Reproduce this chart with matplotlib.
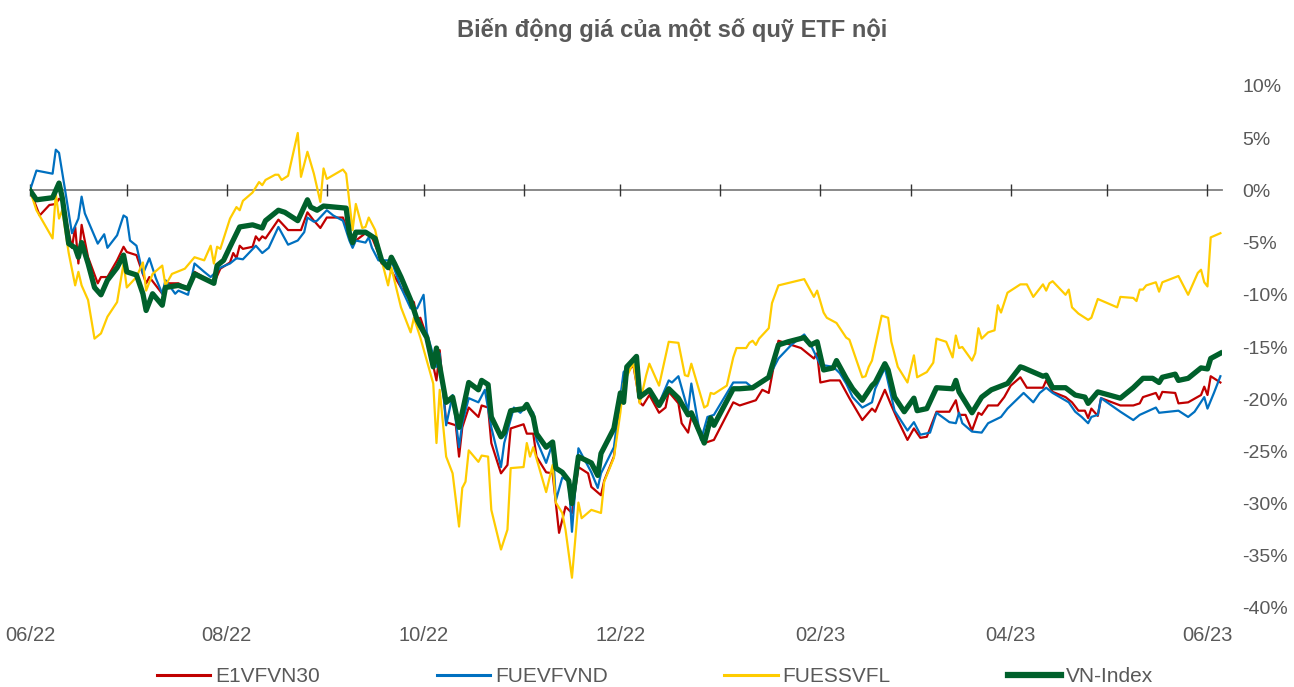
import numpy as np
import pandas as pd
import matplotlib
matplotlib.use("Agg")
import matplotlib.pyplot as plt

plt.rcParams['font.family'] = ['Liberation Sans', 'DejaVu Sans']

# % change vs 01/06/2022, as (days since 2022-06-01, value)
e1vfvn30 = [(0, 0.0), (3, -2.4), (6, -1.4), (8, -1.3), (9, -0.8), (10, -1.0), (13, -5.5), (14, -3.5),
            (15, -7.0), (16, -3.3), (18, -6.4), (21, -8.9), (22, -8.3), (24, -8.3), (27, -6.7), (29, -5.4),
            (30, -5.9), (33, -6.2), (36, -8.9), (37, -8.3), (41, -9.9), (42, -8.9), (46, -8.9), (49, -9.4),
            (51, -7.8), (57, -8.9), (59, -7.5), (62, -6.9), (63, -6.0), (64, -6.5), (65, -5.3), (66, -5.6),
            (69, -5.4), (70, -4.4), (71, -4.8), (72, -4.4), (73, -4.6), (77, -2.8), (80, -3.8), (84, -3.8),
            (86, -2.1), (88, -2.9), (90, -3.6), (92, -2.6), (97, -2.6), (99, -4.3), (100, -5.0), (101, -4.8),
            (104, -4.1), (106, -4.5), (108, -6.0), (109, -7.0), (111, -7.4), (112, -7.7), (115, -9.3),
            (118, -10.5), (119, -10.7), (120, -12.4), (121, -12.2), (123, -14.0), (126, -18.2), (127, -15.3),
            (129, -22.2), (132, -22.5), (133, -25.5), (134, -22.7), (136, -20.8), (139, -21.7), (140, -20.6),
            (142, -20.8), (143, -24.2), (146, -27.1), (148, -26.3), (149, -22.8), (153, -22.4), (154, -23.3),
            (156, -23.3), (157, -25.5), (160, -27.0), (162, -27.1), (164, -32.8), (166, -30.3), (168, -30.9),
            (170, -26.5), (173, -27.1), (174, -28.4), (177, -29.2), (178, -27.8), (181, -25.5), (183, -20.1),
            (184, -17.9), (187, -16.7), (189, -20.3), (190, -20.6), (192, -19.6), (195, -21.3), (197, -20.8),
            (198, -19.3), (201, -20.4), (202, -22.3), (204, -23.2), (205, -21.7), (209, -24.2), (212, -23.9),
            (218, -20.3), (220, -20.6), (225, -20.1), (227, -19.1), (229, -19.4), (232, -14.4), (236, -14.8),
            (239, -15.1), (243, -16.1), (244, -15.6), (245, -18.4), (248, -18.2), (251, -18.2), (254, -19.9),
            (258, -22.0), (261, -20.9), (262, -21.2), (265, -19.1), (267, -20.6), (269, -22.0), (272, -23.9),
            (274, -22.8), (276, -23.7), (278, -23.6), (281, -21.2), (285, -21.2), (287, -20.1), (288, -21.5),
            (290, -21.5), (292, -23.0), (294, -21.3), (295, -21.5), (297, -20.6), (300, -20.6), (302, -19.8),
            (304, -18.7), (307, -17.9), (309, -18.9), (311, -18.9), (314, -18.9), (315, -18.2), (317, -19.3),
            (321, -19.8), (323, -20.3), (325, -21.1), (327, -21.1), (328, -21.8), (329, -20.9), (331, -21.6),
            (332, -19.9), (338, -20.6), (342, -20.6), (344, -20.4), (345, -19.8), (349, -19.4), (350, -20.0),
            (351, -19.3), (355, -19.4), (356, -20.4), (359, -20.3), (363, -19.6), (364, -18.8), (365, -19.6),
            (366, -17.8), (369, -18.4)]

fuevfvnd = [(0, 0.0), (2, 1.9), (7, 1.6), (8, 3.9), (9, 3.6), (11, -0.2), (13, -4.1), (15, -2.7),
            (16, -0.6), (17, -2.2), (21, -5.1), (23, -4.2), (24, -5.5), (27, -4.3), (29, -2.4), (30, -2.6),
            (31, -4.8), (33, -5.3), (35, -8.0), (37, -6.5), (39, -8.4), (41, -9.9), (42, -8.6), (45, -9.9),
            (46, -9.6), (49, -10.0), (51, -7.0), (54, -7.8), (56, -8.3), (59, -7.4), (62, -7.0), (64, -6.5),
            (66, -6.6), (70, -5.3), (72, -6.0), (74, -5.5), (77, -3.5), (80, -5.2), (83, -4.8), (85, -4.0),
            (86, -2.6), (88, -3.0), (89, -2.9), (92, -1.9), (94, -2.4), (97, -2.9), (99, -4.8), (100, -5.5),
            (101, -4.8), (104, -5.0), (105, -4.5), (106, -5.5), (108, -6.7), (112, -6.7), (115, -9.3),
            (118, -11.3), (120, -11.3), (122, -10.0), (123, -13.6), (126, -16.9), (127, -15.6), (129, -22.5),
            (131, -19.6), (133, -24.6), (134, -22.3), (136, -19.9), (139, -20.3), (141, -19.1), (143, -22.7),
            (146, -26.5), (147, -24.2), (150, -20.8), (152, -21.3), (154, -20.6), (156, -21.3), (157, -23.9),
            (160, -26.1), (162, -24.2), (163, -29.7), (165, -27.5), (167, -27.8), (168, -32.7), (170, -24.7),
            (174, -27.0), (176, -28.5), (177, -27.1), (181, -24.6), (183, -19.8), (184, -17.4), (187, -16.5),
            (189, -19.8), (192, -19.1), (195, -20.4), (198, -18.2), (199, -18.4), (201, -17.8), (204, -21.1),
            (205, -18.5), (208, -23.9), (210, -21.7), (212, -21.5), (218, -18.4), (222, -18.4), (224, -18.9),
            (226, -18.4), (229, -17.9), (232, -16.1), (236, -14.8), (240, -13.8), (242, -14.8), (245, -16.7),
            (249, -16.9), (251, -17.5), (253, -18.5), (255, -19.8), (258, -20.8), (261, -20.3), (262, -19.0),
            (265, -17.0), (268, -21.1), (272, -23.0), (274, -22.2), (276, -23.4), (279, -23.2), (281, -21.3),
            (285, -22.2), (287, -22.3), (288, -21.3), (289, -22.3), (292, -23.1), (295, -23.2), (297, -22.3),
            (301, -21.7), (303, -20.9), (308, -19.4), (311, -20.3), (313, -19.4), (315, -18.9), (317, -19.4),
            (322, -20.3), (324, -21.2), (326, -21.7), (328, -22.3), (329, -21.7), (331, -21.5), (332, -19.9),
            (338, -21.2), (342, -22.0), (344, -21.5), (349, -20.8), (350, -21.3), (356, -21.1), (359, -21.7),
            (361, -21.2), (364, -19.8), (365, -20.9), (367, -19.4), (369, -17.8)]

fuessvfl = [(0, 0.0), (2, -1.9), (7, -4.6), (8, -0.3), (9, -2.7), (10, -1.9), (12, -6.0), (14, -9.1),
            (15, -7.8), (16, -9.1), (18, -10.5), (20, -14.2), (22, -13.7), (24, -12.1), (27, -10.7),
            (29, -7.0), (30, -9.3), (33, -8.3), (35, -6.9), (36, -9.6), (38, -8.0), (41, -7.2), (42, -9.1),
            (44, -8.0), (48, -7.5), (51, -6.4), (54, -6.7), (56, -5.3), (57, -7.0), (58, -5.4), (59, -5.6),
            (62, -2.7), (64, -1.6), (65, -1.9), (66, -1.0), (69, -0.2), (71, 0.8), (72, 0.5), (73, 1.0),
            (76, 1.5), (77, 1.5), (78, 1.0), (80, 1.4), (83, 5.5), (84, 1.3), (86, 3.7), (88, 1.6), (90, -1.1),
            (91, 2.1), (92, 1.1), (97, 2.0), (98, 1.6), (100, -3.8), (101, -1.3), (103, -3.6), (104, -3.5),
            (105, -2.6), (107, -3.8), (109, -6.7), (111, -9.1), (112, -7.4), (115, -11.2), (118, -13.6),
            (119, -12.2), (121, -14.1), (125, -18.5), (126, -24.2), (127, -19.1), (129, -25.5), (131, -27.1),
            (133, -32.2), (134, -28.5), (135, -27.9), (136, -24.9), (139, -26.0), (140, -25.4), (142, -25.5),
            (143, -30.6), (146, -34.4), (148, -32.5), (149, -26.6), (153, -26.5), (154, -24.2), (155, -25.5),
            (156, -24.6), (160, -28.9), (162, -26.3), (163, -29.9), (165, -30.9), (166, -32.5), (168, -37.1),
            (170, -29.9), (171, -31.4), (174, -30.6), (177, -30.9), (178, -27.9), (181, -25.6), (183, -21.3),
            (184, -18.5), (187, -16.5), (189, -20.4), (191, -17.7), (192, -16.6), (195, -18.7), (198, -14.5),
            (201, -14.6), (203, -17.7), (204, -17.8), (205, -16.6), (209, -20.8), (210, -20.6), (211, -19.4),
            (212, -19.5), (216, -18.7), (218, -16.0), (219, -15.1), (222, -15.1), (223, -14.6), (224, -14.4),
            (225, -14.8), (226, -14.2), (229, -13.2), (230, -10.8), (232, -9.1), (240, -8.5), (243, -10.2),
            (244, -9.6), (246, -11.7), (247, -12.2), (250, -12.7), (253, -14.1), (254, -14.3), (258, -17.9),
            (259, -17.8), (260, -16.9), (261, -16.3), (264, -12.0), (266, -12.2), (267, -14.5), (269, -16.9),
            (272, -18.4), (274, -15.8), (275, -17.9), (278, -17.4), (280, -16.5), (281, -14.2), (284, -14.5),
            (286, -16.0), (287, -13.9), (288, -15.1), (289, -15.0), (292, -16.3), (293, -15.6), (294, -13.2),
            (295, -14.2), (297, -13.6), (299, -13.4), (300, -11.0), (301, -11.7), (303, -9.8), (307, -9.0),
            (309, -9.0), (311, -10.2), (314, -9.0), (315, -9.6), (316, -8.9), (317, -8.7), (321, -10.0),
            (322, -9.5), (323, -11.2), (325, -11.8), (328, -12.4), (329, -12.2), (331, -10.4), (337, -11.2),
            (338, -10.2), (342, -10.3), (343, -10.6), (344, -9.5), (345, -9.5), (346, -9.1), (349, -8.8),
            (350, -9.7), (351, -8.8), (356, -8.2), (359, -10.0), (362, -7.9), (363, -7.6), (364, -8.8),
            (365, -9.2), (366, -4.5), (369, -4.1)]

vn_index = [(0, 0.0), (2, -0.9), (7, -0.7), (9, 0.7), (10, -0.7), (12, -5.1), (14, -5.5), (15, -6.4),
            (16, -5.0), (18, -7.0), (20, -9.3), (22, -10.0), (24, -8.6), (27, -7.4), (29, -6.2), (30, -7.8),
            (33, -8.1), (35, -9.9), (36, -11.5), (38, -9.9), (41, -11.0), (42, -9.3), (46, -9.1), (49, -9.4),
            (51, -8.0), (53, -8.3), (57, -8.9), (58, -7.2), (60, -6.7), (62, -5.4), (65, -3.5), (69, -3.3),
            (72, -3.6), (73, -2.9), (77, -1.9), (79, -2.1), (83, -2.9), (86, -0.9), (87, -1.6), (89, -1.9),
            (91, -1.5), (98, -1.7), (99, -4.1), (100, -5.0), (101, -4.0), (104, -4.0), (107, -4.6), (109, -6.7),
            (111, -7.4), (112, -6.4), (113, -7.0), (115, -8.3), (118, -10.5), (120, -12.4), (121, -13.0),
            (123, -14.1), (125, -16.9), (126, -15.1), (129, -20.3), (131, -19.8), (133, -22.7), (136, -18.4),
            (139, -19.1), (140, -18.2), (142, -18.6), (143, -21.7), (146, -23.6), (147, -23.2), (149, -21.1),
            (153, -20.9), (154, -20.5), (156, -21.7), (157, -23.3), (160, -24.6), (162, -24.1), (163, -26.6),
            (165, -27.0), (167, -27.8), (168, -30.0), (170, -25.5), (174, -26.1), (176, -27.3), (177, -25.2),
            (181, -22.8), (183, -19.4), (184, -20.3), (185, -16.9), (188, -15.9), (189, -19.8), (192, -19.1),
            (195, -20.6), (198, -19.0), (201, -19.9), (204, -21.5), (205, -21.3), (209, -24.2), (211, -21.8),
            (212, -22.5), (218, -19.0), (220, -19.0), (224, -18.9), (229, -17.9), (232, -14.8), (235, -14.5),
            (240, -14.1), (242, -14.8), (244, -14.5), (246, -17.2), (249, -17.0), (250, -16.3), (253, -18.0),
            (255, -19.0), (258, -20.1), (261, -18.7), (262, -18.4), (265, -16.6), (266, -17.2), (268, -19.8),
            (271, -21.2), (274, -19.9), (275, -21.1), (278, -20.9), (281, -18.9), (286, -19.0), (287, -18.2),
            (288, -19.3), (292, -21.3), (295, -19.8), (298, -19.1), (303, -18.5), (307, -16.9), (308, -17.0),
            (314, -17.8), (315, -17.7), (317, -18.9), (321, -18.9), (324, -19.6), (327, -19.8), (328, -20.4),
            (331, -19.3), (338, -19.9), (342, -18.9), (345, -18.0), (348, -18.0), (350, -18.4), (351, -17.9),
            (355, -17.6), (356, -18.2), (359, -18.0), (363, -17.0), (365, -17.1), (366, -16.1), (369, -15.6)]

names = ['E1VFVN30', 'FUEVFVND', 'FUESSVFL', 'VN-Index']
colors = ['#C00000', '#0070C0', '#FFCC00', '#00602B']
widths = [1.6, 1.6, 1.6, 3.8]
yticks = list(range(-40, 11, 5))
start = pd.Timestamp('2022-06-01')
months = pd.date_range('2022-06-01', '2023-06-01', freq='MS')
month_days = (months - start).days.to_numpy()
gray = '#595959'

fig = plt.figure(figsize=(12.94, 6.87), dpi=100)
ax = fig.add_axes([30/1294, 1 - 608/687, 1192/1294, 522/687])

lines = []
for data, name, c, w in zip([e1vfvn30, fuevfvnd, fuessvfl, vn_index], names, colors, widths):
    d = np.array(data)
    ln, = ax.plot(d[:, 0], d[:, 1], color=c, lw=w, label=name, solid_joinstyle='round')
    lines.append(ln)

ax.set_xlim(0, 369.5)
ax.set_ylim(-40, 10)

# zero line with monthly ticks
for s in ['top', 'left', 'right']:
    ax.spines[s].set_visible(False)
ax.spines['bottom'].set_position(('data', 0))
ax.spines['bottom'].set_color('#808080')
ax.spines['bottom'].set_linewidth(1.3)
ax.spines['bottom'].set_zorder(0)
ax.set_xticks(month_days)
ax.tick_params(axis='x', direction='inout', length=8, width=1.0, color='#333333', labelbottom=False)

# date labels at bottom
sec = ax.secondary_xaxis('bottom')
sec.set_xticks(month_days[::2], labels=months[::2].strftime('%m/%y'))
sec.tick_params(length=0, pad=13, labelsize=14.5, labelcolor=gray)
sec.spines['bottom'].set_visible(False)

ax.yaxis.tick_right()
ax.set_yticks(yticks, labels=[f'{v}%' for v in yticks])
ax.tick_params(axis='y', length=0, pad=14.5, labelsize=14, labelcolor=gray)

fig.text(672/1294, 1 - 30/687, 'Biến động giá của một số quỹ ETF nội', ha='center', va='center',
         fontsize=17, fontweight='bold', color=gray)

leg = fig.legend(lines, names, loc='center', bbox_to_anchor=(655/1294, 10/687), ncol=4, frameon=False,
                 handlelength=2.55, handletextpad=0.25, columnspacing=5.6, fontsize=15, labelcolor=gray)
for h, w in zip(leg.get_lines(), [2.2, 2.2, 2.2, 4.5]):
    h.set_linewidth(w)

fig.savefig('out.png', dpi=100)
